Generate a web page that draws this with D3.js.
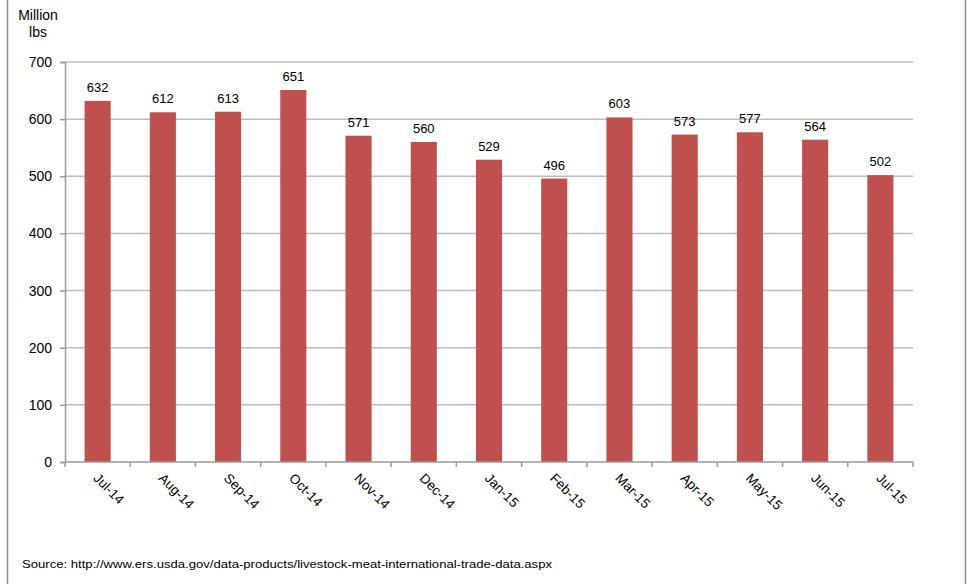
<!DOCTYPE html>
<html>
<head>
<meta charset="utf-8">
<script src="https://cdn.jsdelivr.net/npm/d3@7"></script>
<style>
  body { margin: 0; background: #fff; }
  text { font-family: "Liberation Sans", Arial, sans-serif; fill: #000; }
</style>
</head>
<body>
<div id="chart"></div>
<script>
// data
var months = ["Jul-14", "Aug-14", "Sep-14", "Oct-14", "Nov-14", "Dec-14", "Jan-15",
              "Feb-15", "Mar-15", "Apr-15", "May-15", "Jun-15", "Jul-15"];
var exports = [632, 612, 613, 651, 571, 560, 529, 496, 603, 573, 577, 564, 502];
var yTicks = [0, 100, 200, 300, 400, 500, 600, 700];
var unitLines = ["Million", "lbs"];
var source = "Source: http://www.ers.usda.gov/data-products/livestock-meat-international-trade-data.aspx";

var W = 968, H = 584;
var margin = { top: 62, right: 55, bottom: 122, left: 65 },
    width = W - margin.left - margin.right,
    height = H - margin.top - margin.bottom;

var root = d3.select("#chart").append("svg")
    .attr("width", W)
    .attr("height", H);

// outer frame (left and right edges visible)
root.append("line").attr("x1", 7.5).attr("x2", 7.5).attr("y1", 0).attr("y2", H)
    .attr("stroke", "#8c8c8c").attr("stroke-width", 1.5);
root.append("line").attr("x1", 965.5).attr("x2", 965.5).attr("y1", 0).attr("y2", H)
    .attr("stroke", "#8c8c8c").attr("stroke-width", 1.5);

var svg = root.append("g")
    .attr("transform", "translate(" + margin.left + "," + margin.top + ")");

var x = d3.scaleBand()
    .domain(months)
    .range([0, width])
    .paddingInner(0.6)
    .paddingOuter(0.3);

var y = d3.scaleLinear()
    .domain([0, 700])
    .range([height, 0]);

// gridlines
svg.append("g")
    .selectAll("line")
    .data(yTicks.filter(function(d) { return d > 0; }))
    .enter().append("line")
    .attr("x1", 0).attr("x2", width)
    .attr("y1", function(d) { return y(d); })
    .attr("y2", function(d) { return y(d); })
    .attr("stroke", "#bcbcbc")
    .attr("stroke-width", 1.5);

// bars
svg.selectAll(".bar")
    .data(exports)
    .enter().append("rect")
    .attr("class", "bar")
    .attr("x", function(d, i) { return x(months[i]); })
    .attr("width", x.bandwidth())
    .attr("y", function(d) { return y(d); })
    .attr("height", function(d) { return y(0) - y(d); })
    .attr("fill", "#c0504d");

// value labels
svg.selectAll(".val")
    .data(exports)
    .enter().append("text")
    .attr("class", "val")
    .attr("x", function(d, i) { return x(months[i]) + x.bandwidth() / 2; })
    .attr("y", function(d) { return y(d) - 9; })
    .attr("text-anchor", "middle")
    .style("font-size", "13px")
    .text(function(d) { return d; });

// y axis
var yAxis = svg.append("g")
    .call(d3.axisLeft(y).tickValues(yTicks).tickSize(5).tickPadding(8));
yAxis.select(".domain").attr("stroke", "#9a9a9a").attr("stroke-width", 1.5);
yAxis.selectAll(".tick line").attr("stroke", "#9a9a9a").attr("stroke-width", 1.5);
yAxis.selectAll(".tick text").style("font-size", "14px").attr("font-family", null);

// x axis: boundary ticks between categories
var xAxis = svg.append("g")
    .attr("transform", "translate(0," + height + ")");
xAxis.append("line")
    .attr("x1", 0).attr("x2", width)
    .attr("stroke", "#9a9a9a").attr("stroke-width", 1.5);
xAxis.selectAll(".xt")
    .data(d3.range(months.length + 1))
    .enter().append("line")
    .attr("class", "xt")
    .attr("x1", function(i) { return i * width / months.length; })
    .attr("x2", function(i) { return i * width / months.length; })
    .attr("y1", 0).attr("y2", 5)
    .attr("stroke", "#9a9a9a").attr("stroke-width", 1.5);
xAxis.selectAll(".xl")
    .data(months)
    .enter().append("text")
    .attr("class", "xl")
    .attr("transform", function(d) {
        return "translate(" + (x(d) + x.bandwidth() / 2 - 5) + ",17) rotate(45)";
    })
    .attr("text-anchor", "start")
    .style("font-size", "13.5px")
    .text(function(d) { return d; });

// unit label
root.append("text")
    .attr("x", 38).attr("y", 0)
    .attr("text-anchor", "middle")
    .style("font-size", "14px")
    .selectAll("tspan")
    .data(unitLines)
    .enter().append("tspan")
    .attr("x", 38)
    .attr("y", function(d, i) { return 20 + i * 17; })
    .text(function(d) { return d; });

// source note
root.append("text")
    .attr("x", 22).attr("y", 568)
    .style("font-size", "11px")
    .attr("textLength", 530)
    .attr("lengthAdjust", "spacingAndGlyphs")
    .text(source);
</script>
</body>
</html>
